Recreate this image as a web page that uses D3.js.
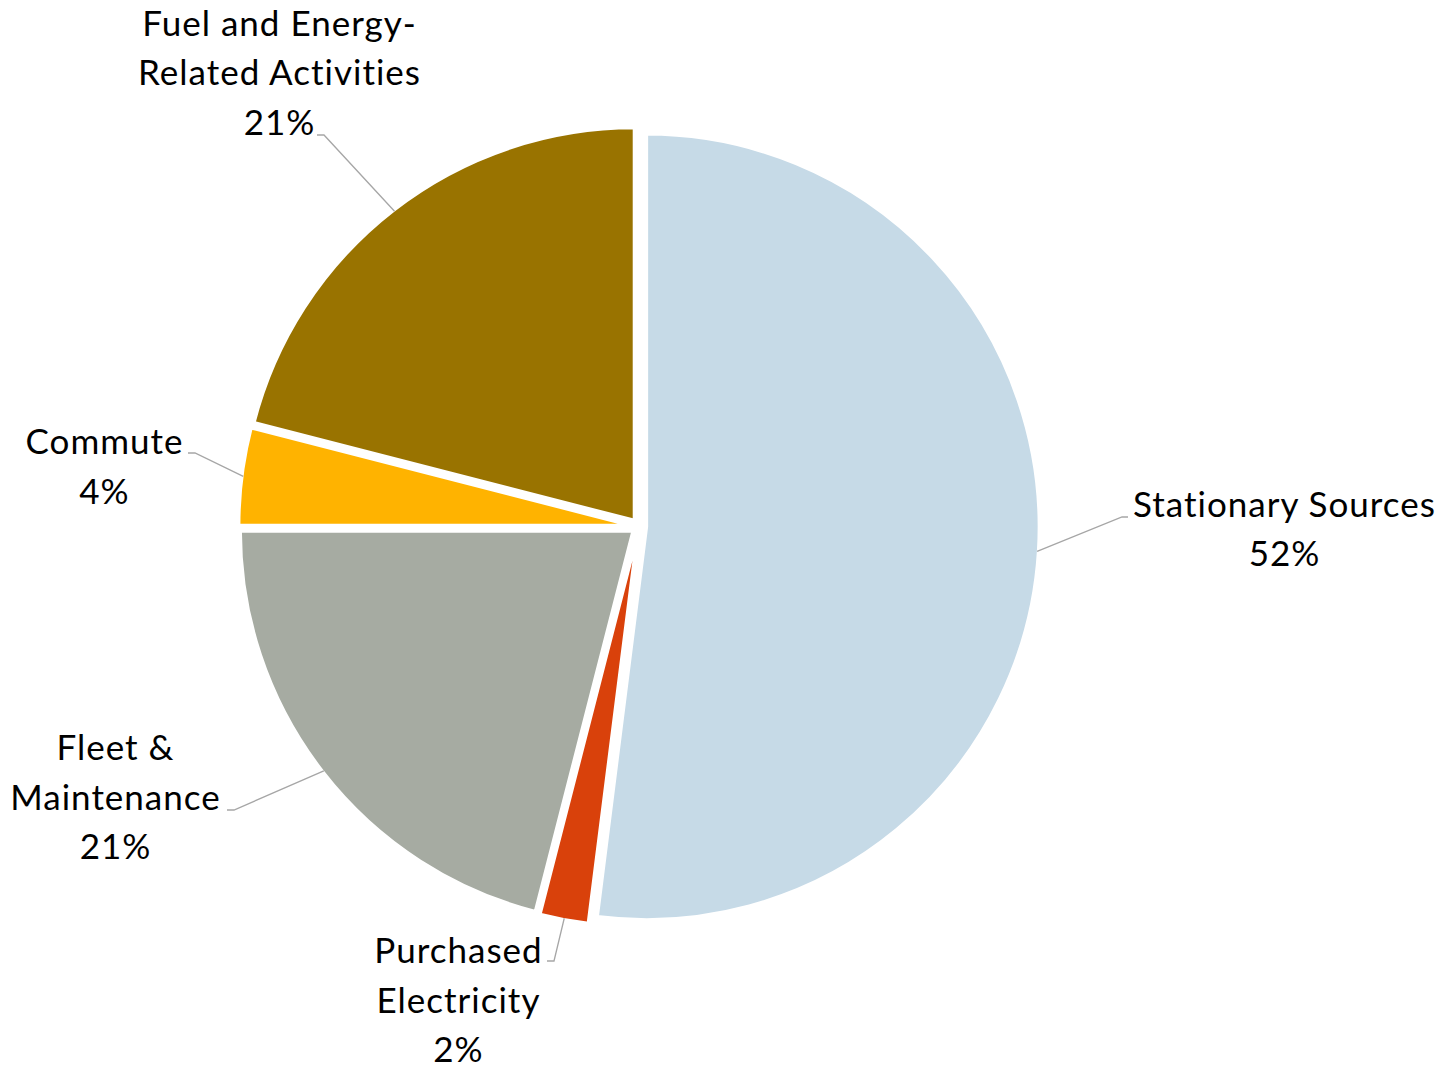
<!DOCTYPE html>
<html>
<head>
<meta charset="utf-8">
<script src="https://cdn.jsdelivr.net/npm/d3@7"></script>
<style>
  html, body { margin: 0; padding: 0; background: #fff; }
  svg { display: block; }
  text { font-family: Lato, "Open Sans", sans-serif; fill: #000; font-variant-ligatures: none; font-feature-settings: "liga" 0, "clig" 0; }
</style>
</head>
<body>
<script>
// Emission sources, clockwise from 12 o'clock
const categories = ["Stationary Sources", "Purchased Electricity", "Fleet & Maintenance", "Commute", "Fuel and Energy-Related Activities"];
const shares = [52, 2, 21, 4, 21];
const labelLines = [["Stationary Sources"], ["Purchased", "Electricity"], ["Fleet &", "Maintenance"], ["Commute"], ["Fuel and Energy-", "Related Activities"]];
const sliceColors = ["#C6DAE7", "#D9410B", "#A6ABA2", "#FFB300", "#997300"];

const W = 1442, H = 1073;
const cx = 639, cy = 526.4;
const radius = 393;
const explode = 7.4;
const fontSize = 35;
const letterSpacing = 1;
const lineStep = 49.5;

// Where each label block sits: centre x, first baseline y, leader attach point, and which side the text is on
const labelLayout = [
  { x: 1284, y: 516.7, ax: 1128, ay: 517, side: "right" },
  { x: 458, y: 963, ax: 547, ay: 961, side: "left" },
  { x: 115, y: 760, ax: 227, ay: 810, side: "left" },
  { x: 104, y: 454, ax: 188, ay: 453, side: "left" },
  { x: 279, y: 35.5, ax: 317, ay: 135, side: "left" }
];

const svg = d3.select("body").append("svg").attr("width", W).attr("height", H);

const pie = d3.pie().sort(null).value(d => d);
const arcs = pie(shares);
const arc = d3.arc().innerRadius(0).outerRadius(radius);

const offset = a => {
  const m = (a.startAngle + a.endAngle) / 2;
  return [Math.sin(m) * explode, -Math.cos(m) * explode];
};

const g = svg.append("g").attr("transform", `translate(${cx},${cy})`);

g.selectAll("path.slice")
  .data(arcs)
  .join("path")
  .attr("class", "slice")
  .attr("transform", d => { const o = offset(d); return `translate(${o[0]},${o[1]})`; })
  .attr("d", arc)
  .attr("fill", (d, i) => sliceColors[i])
  .attr("stroke", "#fff")
  .attr("stroke-width", 3.5)
  .attr("stroke-linejoin", "round");

// Leader lines from each slice's outer mid-arc to its label
const leaders = svg.append("g");
arcs.forEach((a, i) => {
  const o = offset(a);
  const m = (a.startAngle + a.endAngle) / 2;
  const r = radius - 1.5;
  const px = cx + o[0] + Math.sin(m) * r;
  const py = cy + o[1] - Math.cos(m) * r;
  const L = labelLayout[i];
  const ex = L.side === "right" ? L.ax - 6 : L.ax + 7;
  leaders.append("path")
    .attr("d", d3.line()([[px, py], [ex, L.ay], [L.ax, L.ay]]))
    .attr("fill", "none")
    .attr("stroke", "#A6A6A6")
    .attr("stroke-width", 1.3);
});

// Labels: category name lines followed by the share
const labels = svg.append("g")
  .attr("font-size", fontSize)
  .attr("letter-spacing", letterSpacing);
arcs.forEach((a, i) => {
  const L = labelLayout[i];
  const lines = labelLines[i].concat([shares[i] + "%"]);
  const t = labels.append("text").attr("text-anchor", "middle");
  lines.forEach((s, k) => {
    t.append("tspan").attr("x", L.x + letterSpacing / 2).attr("y", L.y + k * lineStep).text(s);
  });
});
</script>
</body>
</html>
